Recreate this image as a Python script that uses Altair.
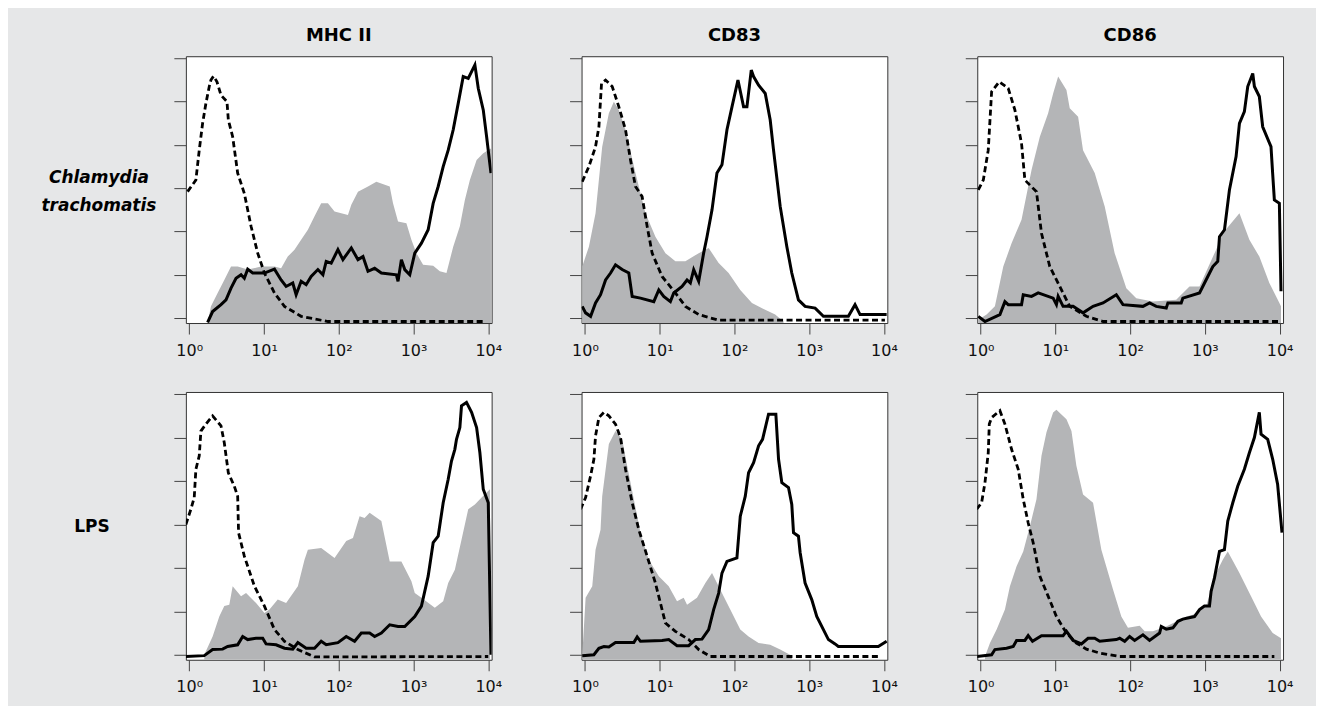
import altair as alt
import pandas as pd

# ---------------- data (x as log10 fluorescence, y in axis-tick units) ----------------
COLUMNS = ["MHC II", "CD83", "CD86"]
ROWS = ["Chlamydia\ntrachomatis", "LPS"]
X_TICKS = [1, 10, 100, 1000, 10000]
Y_TICKS = [0, 1, 2, 3, 4, 5, 6]

# MHC II / Chlamydia trachomatis
mhc_ct_iso_e = [-0.022, 0.089, 0.134, 0.179, 0.223, 0.268, 0.29, 0.326, 0.371, 0.425, 0.505, 0.523, 0.581, 0.648, 0.737, 0.827, 0.916, 1.006, 1.14, 1.274, 1.497, 1.855, 3.955]
mhc_ct_iso_v = [2.92, 3.19, 3.88, 4.5, 4.96, 5.35, 5.5, 5.59, 5.46, 5.15, 5.0, 4.58, 4.19, 3.35, 2.88, 2.12, 1.5, 1.04, 0.58, 0.27, 0.04, -0.08, -0.08]
mhc_ct_unst_e = [0.246, 0.291, 0.38, 0.469, 0.559, 0.648, 0.782, 0.961, 1.14, 1.229, 1.318, 1.408, 1.497, 1.587, 1.676, 1.765, 1.855, 1.944, 2.123, 2.168, 2.257, 2.391, 2.503, 2.682, 2.726, 2.793, 2.905, 2.972, 3.039, 3.128, 3.263, 3.352, 3.441, 3.531, 3.62, 3.687, 3.754, 3.844, 3.933, 4.036]
mhc_ct_unst_v = [-0.1, 0.27, 0.58, 0.88, 1.19, 1.19, 1.12, 1.19, 1.19, 1.15, 1.42, 1.58, 1.81, 2.04, 2.35, 2.65, 2.65, 2.46, 2.38, 2.62, 2.92, 3.04, 3.15, 3.04, 2.65, 2.23, 2.19, 1.81, 1.5, 1.23, 1.21, 1.08, 1.04, 1.65, 2.12, 2.73, 3.19, 3.65, 3.81, 3.92]
mhc_ct_stim_e = [0.246, 0.313, 0.425, 0.492, 0.559, 0.626, 0.693, 0.737, 0.782, 0.849, 1.006, 1.14, 1.229, 1.296, 1.385, 1.43, 1.497, 1.564, 1.631, 1.721, 1.788, 1.832, 1.899, 1.989, 2.056, 2.168, 2.257, 2.324, 2.391, 2.48, 2.57, 2.771, 2.793, 2.838, 2.883, 2.95, 3.017, 3.106, 3.196, 3.263, 3.33, 3.397, 3.464, 3.531, 3.598, 3.665, 3.732, 3.821, 3.866, 3.933, 3.978, 4.036]
mhc_ct_stim_v = [-0.1, 0.15, 0.31, 0.42, 0.69, 0.92, 1.0, 0.92, 1.13, 1.04, 1.04, 1.13, 0.88, 0.73, 0.81, 0.54, 0.85, 0.77, 0.96, 1.12, 1.0, 1.31, 1.27, 1.58, 1.35, 1.62, 1.35, 1.42, 1.08, 1.15, 1.04, 1.0, 0.85, 1.35, 1.12, 1.0, 1.5, 1.73, 2.04, 2.65, 3.04, 3.5, 3.88, 4.35, 4.96, 5.58, 5.54, 5.85, 5.31, 4.81, 4.19, 3.35]

# CD83 / Chlamydia trachomatis
cd83_ct_iso_e = [-0.036, 0.053, 0.142, 0.187, 0.222, 0.276, 0.365, 0.454, 0.543, 0.61, 0.676, 0.765, 0.832, 0.899, 1.032, 1.21, 1.344, 1.522, 1.789, 4.013]
cd83_ct_iso_v = [3.15, 3.5, 3.96, 4.42, 5.42, 5.5, 5.35, 4.88, 4.35, 3.65, 3.04, 2.81, 2.12, 1.5, 0.96, 0.58, 0.27, 0.08, -0.05, -0.05]
cd83_ct_unst_e = [-0.036, 0.053, 0.142, 0.231, 0.32, 0.387, 0.454, 0.543, 0.676, 0.81, 0.943, 1.077, 1.21, 1.344, 1.522, 1.655, 1.789, 1.922, 2.078, 2.234, 2.411, 2.545, 2.656]
cd83_ct_unst_v = [1.19, 1.65, 2.42, 3.96, 4.73, 5.0, 4.81, 4.35, 3.35, 2.42, 1.88, 1.5, 1.31, 1.31, 1.5, 1.62, 1.27, 1.04, 0.65, 0.35, 0.19, 0.08, -0.08]
cd83_ct_stim_e = [-0.036, 0.009, 0.076, 0.142, 0.209, 0.276, 0.343, 0.409, 0.498, 0.587, 0.632, 0.743, 0.921, 0.988, 1.054, 1.143, 1.188, 1.299, 1.366, 1.41, 1.455, 1.522, 1.588, 1.633, 1.7, 1.766, 1.833, 1.9, 1.967, 2.047, 2.122, 2.167, 2.225, 2.256, 2.323, 2.412, 2.478, 2.523, 2.612, 2.701, 2.767, 2.856, 2.945, 3.079, 3.19, 3.524, 3.613, 3.68, 4.036]
cd83_ct_stim_v = [0.27, 0.12, 0.04, 0.35, 0.54, 0.88, 1.04, 1.23, 1.12, 1.04, 0.5, 0.46, 0.38, 0.65, 0.5, 0.38, 0.58, 0.73, 0.88, 0.81, 1.12, 0.85, 1.5, 1.88, 2.5, 3.35, 3.54, 4.35, 4.88, 5.5, 4.88, 4.88, 5.73, 5.58, 5.38, 5.19, 4.58, 3.88, 2.58, 1.65, 1.04, 0.42, 0.27, 0.23, 0.04, 0.04, 0.31, 0.08, 0.08]

# CD86 / Chlamydia trachomatis
cd86_ct_iso_e = [-0.031, 0.036, 0.102, 0.147, 0.249, 0.369, 0.458, 0.547, 0.592, 0.747, 0.814, 0.925, 1.059, 1.192, 1.415, 1.637, 3.996]
cd86_ct_iso_v = [2.96, 3.19, 3.88, 5.23, 5.46, 5.31, 4.81, 4.04, 3.19, 2.92, 1.96, 1.19, 0.73, 0.27, 0.04, -0.08, -0.08]
cd86_ct_unst_e = [-0.031, 0.08, 0.191, 0.303, 0.414, 0.547, 0.681, 0.792, 0.903, 0.97, 1.037, 1.148, 1.192, 1.304, 1.37, 1.526, 1.66, 1.793, 1.949, 2.082, 2.305, 2.616, 2.794, 2.928, 3.15, 3.239, 3.462, 3.595, 3.728, 3.862, 4.018]
cd86_ct_unst_v = [-0.04, 0.08, 0.27, 1.19, 1.73, 2.27, 3.42, 4.19, 4.73, 5.19, 5.58, 5.27, 4.85, 4.65, 3.88, 3.35, 2.58, 1.5, 0.69, 0.46, 0.38, 0.42, 0.73, 0.73, 1.58, 1.96, 2.42, 1.81, 1.42, 0.81, 0.27]
cd86_ct_stim_e = [-0.031, 0.058, 0.258, 0.325, 0.369, 0.436, 0.547, 0.57, 0.681, 0.77, 0.97, 1.014, 1.037, 1.103, 1.237, 1.37, 1.504, 1.637, 1.815, 1.904, 2.171, 2.26, 2.349, 2.483, 2.505, 2.683, 2.705, 2.928, 3.039, 3.106, 3.172, 3.195, 3.262, 3.328, 3.417, 3.462, 3.528, 3.573, 3.64, 3.662, 3.728, 3.773, 3.884, 3.906, 3.929, 3.996, 4.018]
cd86_ct_stim_v = [0.04, -0.08, 0.08, 0.38, 0.31, 0.31, 0.31, 0.54, 0.5, 0.58, 0.46, 0.31, 0.5, 0.27, 0.27, 0.12, 0.27, 0.35, 0.54, 0.31, 0.27, 0.35, 0.27, 0.23, 0.35, 0.35, 0.46, 0.58, 0.96, 1.19, 1.31, 1.88, 2.04, 2.96, 3.73, 4.5, 4.77, 5.35, 5.65, 5.35, 5.12, 4.42, 3.96, 3.35, 2.73, 2.65, 0.62]

# MHC II / LPS
mhc_lps_iso_e = [-0.045, 0.022, 0.067, 0.089, 0.134, 0.156, 0.223, 0.313, 0.425, 0.469, 0.523, 0.603, 0.648, 0.66, 0.737, 0.872, 1.006, 1.14, 1.274, 1.453, 1.676, 4.0]
mhc_lps_iso_v = [3.0, 3.35, 3.62, 4.27, 4.58, 5.15, 5.31, 5.5, 5.27, 4.88, 4.19, 3.88, 3.65, 2.81, 2.27, 1.58, 1.12, 0.58, 0.31, 0.12, -0.05, -0.04]
mhc_lps_unst_e = [0.201, 0.313, 0.402, 0.469, 0.536, 0.581, 0.693, 0.76, 0.894, 1.006, 1.073, 1.184, 1.296, 1.453, 1.542, 1.587, 1.765, 1.944, 2.1, 2.19, 2.279, 2.346, 2.413, 2.57, 2.682, 2.838, 2.972, 3.017, 3.106, 3.285, 3.397, 3.464, 3.553, 3.642, 3.732, 3.821, 3.911, 4.022]
mhc_lps_unst_v = [0.0, 0.42, 0.88, 1.12, 1.15, 1.58, 1.35, 1.42, 1.19, 0.96, 1.04, 1.27, 1.19, 1.58, 2.19, 2.42, 2.46, 2.23, 2.62, 2.69, 3.19, 3.15, 3.27, 3.08, 2.15, 2.15, 1.69, 1.42, 1.31, 1.08, 1.23, 1.65, 1.96, 2.65, 3.35, 3.46, 3.62, 3.81]
mhc_lps_stim_e = [-0.045, 0.201, 0.313, 0.447, 0.514, 0.648, 0.715, 0.782, 0.894, 0.983, 1.028, 1.162, 1.274, 1.385, 1.453, 1.564, 1.676, 1.765, 1.832, 1.989, 2.1, 2.212, 2.302, 2.413, 2.48, 2.57, 2.682, 2.793, 2.883, 3.017, 3.106, 3.196, 3.263, 3.33, 3.397, 3.464, 3.508, 3.553, 3.575, 3.62, 3.642, 3.709, 3.777, 3.844, 3.888, 3.933, 4.0, 4.036]
mhc_lps_stim_v = [-0.04, -0.02, 0.12, 0.13, 0.19, 0.23, 0.42, 0.35, 0.38, 0.38, 0.25, 0.23, 0.15, 0.13, 0.28, 0.15, 0.15, 0.31, 0.23, 0.28, 0.42, 0.31, 0.5, 0.5, 0.42, 0.5, 0.69, 0.65, 0.65, 0.88, 1.12, 1.81, 2.58, 2.73, 3.5, 4.04, 4.46, 4.73, 4.96, 5.23, 5.73, 5.81, 5.58, 5.23, 4.65, 3.81, 3.5, 0.0]

# CD83 / LPS
cd83_lps_iso_e = [-0.058, 0.009, 0.076, 0.12, 0.142, 0.187, 0.254, 0.32, 0.409, 0.476, 0.543, 0.632, 0.721, 0.832, 0.943, 1.077, 1.21, 1.388, 1.522, 1.677, 3.947]
cd83_lps_iso_v = [3.35, 3.62, 4.12, 4.5, 5.04, 5.46, 5.58, 5.5, 5.31, 5.0, 4.27, 3.5, 2.88, 2.27, 1.65, 0.73, 0.54, 0.35, 0.12, -0.04, -0.04]
cd83_lps_unst_e = [-0.036, 0.009, 0.098, 0.142, 0.209, 0.231, 0.32, 0.409, 0.498, 0.565, 0.654, 0.743, 0.854, 0.988, 1.121, 1.232, 1.321, 1.366, 1.499, 1.611, 1.7, 1.833, 1.944, 2.078, 2.189, 2.323, 2.478, 2.612, 2.768]
cd83_lps_unst_v = [-0.04, 1.31, 1.58, 2.42, 2.88, 3.65, 4.85, 5.15, 4.96, 4.35, 3.58, 2.81, 2.19, 1.81, 1.58, 1.23, 1.31, 1.15, 1.31, 1.65, 1.88, 1.42, 1.04, 0.58, 0.42, 0.27, 0.23, 0.12, -0.02]
cd83_lps_stim_e = [-0.036, 0.12, 0.187, 0.254, 0.32, 0.409, 0.654, 0.699, 0.743, 1.032, 1.121, 1.232, 1.388, 1.477, 1.566, 1.655, 1.722, 1.789, 1.833, 1.9, 2.033, 2.078, 2.145, 2.189, 2.256, 2.323, 2.376, 2.456, 2.554, 2.59, 2.634, 2.723, 2.767, 2.79, 2.856, 2.879, 2.945, 3.034, 3.101, 3.19, 3.257, 3.346, 3.39, 3.924, 4.036]
cd83_lps_stim_v = [-0.02, 0.0, 0.15, 0.19, 0.18, 0.28, 0.28, 0.41, 0.31, 0.33, 0.35, 0.21, 0.21, 0.35, 0.36, 0.58, 1.04, 1.42, 1.88, 2.15, 2.23, 3.19, 3.65, 4.19, 4.42, 4.81, 4.96, 5.54, 5.54, 4.5, 3.96, 3.85, 3.46, 2.81, 2.73, 2.35, 1.65, 1.27, 0.88, 0.58, 0.35, 0.25, 0.19, 0.19, 0.31]

# CD86 / LPS
cd86_lps_iso_e = [-0.053, 0.013, 0.058, 0.102, 0.116, 0.147, 0.258, 0.325, 0.414, 0.503, 0.57, 0.636, 0.703, 0.792, 0.903, 1.014, 1.148, 1.281, 1.415, 1.593, 1.86, 3.929]
cd86_lps_iso_v = [3.35, 3.5, 3.96, 4.65, 5.31, 5.46, 5.62, 5.31, 4.73, 4.27, 3.58, 3.04, 2.58, 1.81, 1.35, 0.88, 0.5, 0.27, 0.13, 0.04, -0.04, -0.04]
cd86_lps_unst_e = [0.058, 0.125, 0.214, 0.325, 0.392, 0.481, 0.57, 0.659, 0.747, 0.814, 0.881, 0.97, 1.014, 1.148, 1.215, 1.281, 1.37, 1.504, 1.615, 1.771, 1.882, 1.971, 2.127, 2.194, 2.305, 2.483, 2.75, 2.839, 3.017, 3.15, 3.239, 3.306, 3.462, 3.617, 3.751, 3.907, 4.018]
cd86_lps_unst_v = [-0.04, 0.27, 0.58, 1.04, 1.58, 2.04, 2.38, 2.96, 3.58, 4.58, 5.12, 5.58, 5.64, 5.42, 5.15, 4.35, 3.69, 3.5, 2.42, 1.5, 0.88, 0.62, 0.67, 0.54, 0.54, 0.65, 0.88, 0.92, 1.12, 1.88, 2.19, 2.38, 1.88, 1.35, 0.88, 0.5, 0.38]
cd86_lps_stim_e = [-0.053, 0.147, 0.191, 0.347, 0.436, 0.481, 0.592, 0.636, 0.694, 0.814, 1.103, 1.148, 1.237, 1.348, 1.437, 1.526, 1.593, 1.815, 1.86, 1.927, 1.993, 2.06, 2.171, 2.26, 2.394, 2.416, 2.483, 2.572, 2.639, 2.705, 2.861, 2.928, 2.994, 3.061, 3.083, 3.128, 3.195, 3.261, 3.306, 3.373, 3.439, 3.528, 3.595, 3.662, 3.728, 3.751, 3.84, 3.907, 3.973, 4.031]
cd86_lps_stim_v = [-0.04, 0.0, 0.12, 0.15, 0.19, 0.33, 0.33, 0.44, 0.31, 0.44, 0.44, 0.54, 0.33, 0.25, 0.38, 0.38, 0.31, 0.35, 0.38, 0.31, 0.42, 0.33, 0.46, 0.33, 0.5, 0.65, 0.59, 0.62, 0.77, 0.82, 0.88, 1.04, 1.12, 1.12, 1.46, 1.77, 2.38, 2.42, 3.08, 3.5, 3.88, 4.27, 4.65, 5.0, 5.58, 5.08, 4.96, 4.5, 3.92, 2.81]

# ---------------- styling ----------------
FONT = "DejaVu Sans"
BG = "#e6e7e8"
GREY = "#b4b5b7"
X_DOMAIN = [10 ** -0.045, 10 ** 4.045]
Y_DOMAIN = [-0.115, 6.05]
PANEL_W = 306
LABEL_W = 87
COL_GAP = 90
ROW_GAP = 69
H1, H2 = 267, 268
LINE_H = 28


def series_df(e, v, name):
    return pd.DataFrame({"x": [10 ** a for a in e], "y": v, "base": Y_DOMAIN[0],
                         "series": name, "i": list(range(len(e)))})


def panel(iso, unst, stim, height, title=None):
    df = pd.concat([series_df(*iso, "iso"), series_df(*unst, "unst"), series_df(*stim, "stim")],
                   ignore_index=True)
    xsc = alt.Scale(type="log", domain=X_DOMAIN, nice=False)
    ysc = alt.Scale(domain=Y_DOMAIN, nice=False, zero=False)
    xax = alt.Axis(values=X_TICKS,
                   labelExpr="'10' + ['\u2070','\u00b9','\u00b2','\u00b3','\u2074'][round(log(datum.value)/LN10)]",
                   title=None, grid=False, domain=False, tickSize=11, tickColor="#444", tickWidth=1,
                   labelFont=FONT, labelFontSize=16, labelColor="#111", labelPadding=8,
                   labelFlush=False, labelOverlap=False)
    yax = alt.Axis(values=Y_TICKS, labels=False, title=None, grid=False, domain=False,
                   tickSize=12, tickColor="#444", tickWidth=1)
    x_enc = alt.X("x:Q", scale=xsc, axis=xax)
    y_enc = alt.Y("y:Q", scale=ysc, axis=yax)
    base = alt.Chart(df)
    area = base.transform_filter(alt.datum.series == "unst").mark_area(
        color=GREY, opacity=1, clip=True).encode(x=x_enc, y=y_enc, y2="base:Q")
    iso_l = base.transform_filter(alt.datum.series == "iso").mark_line(
        color="black", strokeWidth=2.8, strokeDash=[6, 3.5], clip=True).encode(x=x_enc, y=y_enc, order="i:Q")
    stim_l = base.transform_filter(alt.datum.series == "stim").mark_line(
        color="black", strokeWidth=3, clip=True).encode(x=x_enc, y=y_enc, order="i:Q")
    props = dict(width=PANEL_W, height=height,
                 view=alt.ViewBackground(fill="white", stroke="#333", strokeWidth=1))
    if title:
        props["title"] = alt.Title(title, font=FONT, fontSize=18, fontWeight="bold", color="black",
                                   anchor="middle", frame="group", baseline="alphabetic", offset=-3)
    return alt.layer(area, iso_l, stim_l).properties(**props)


def text_cell(text, w, h, x, y, size, style="normal"):
    df = pd.DataFrame({"t": [text]})
    return alt.Chart(df).mark_text(
        font=FONT, fontSize=size, fontWeight="bold", fontStyle=style, align="center",
        baseline="middle", lineBreak="\n", lineHeight=LINE_H, color="black"
    ).encode(text="t:N", x=alt.value(x), y=alt.value(y)).properties(width=w, height=h)


cells = [
    text_cell(ROWS[0], LABEL_W, H1, 90, H1 / 2 - LINE_H / 2 + 2, 17, "italic"),
    panel((mhc_ct_iso_e, mhc_ct_iso_v), (mhc_ct_unst_e, mhc_ct_unst_v), (mhc_ct_stim_e, mhc_ct_stim_v), H1, COLUMNS[0]),
    panel((cd83_ct_iso_e, cd83_ct_iso_v), (cd83_ct_unst_e, cd83_ct_unst_v), (cd83_ct_stim_e, cd83_ct_stim_v), H1, COLUMNS[1]),
    panel((cd86_ct_iso_e, cd86_ct_iso_v), (cd86_ct_unst_e, cd86_ct_unst_v), (cd86_ct_stim_e, cd86_ct_stim_v), H1, COLUMNS[2]),
    text_cell(ROWS[1], LABEL_W, H2, 83, H2 / 2 + 1, 17),
    panel((mhc_lps_iso_e, mhc_lps_iso_v), (mhc_lps_unst_e, mhc_lps_unst_v), (mhc_lps_stim_e, mhc_lps_stim_v), H2),
    panel((cd83_lps_iso_e, cd83_lps_iso_v), (cd83_lps_unst_e, cd83_lps_unst_v), (cd83_lps_stim_e, cd83_lps_stim_v), H2),
    panel((cd86_lps_iso_e, cd86_lps_iso_v), (cd86_lps_unst_e, cd86_lps_unst_v), (cd86_lps_stim_e, cd86_lps_stim_v), H2),
]

chart = alt.concat(*cells, columns=4, spacing={"row": ROW_GAP, "column": COL_GAP}, bounds="flush").configure(
    background=BG, padding={"left": 0, "top": 18, "right": 22, "bottom": 10}
).configure_view(stroke="transparent")

chart.save("out.html", embed_options={"renderer": "svg", "actions": False})
